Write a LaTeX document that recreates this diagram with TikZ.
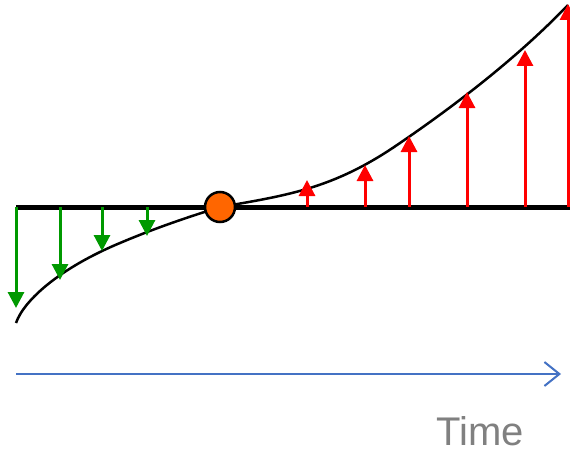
\documentclass[tikz,border=0pt]{standalone}
\usepackage{fontspec}
\setsansfont{Liberation Sans}
\usetikzlibrary{arrows.meta}

\definecolor{pushgreen}{RGB}{0,153,0}
\definecolor{pivotorange}{RGB}{255,102,0}
\definecolor{timeblue}{RGB}{68,114,196}

\tikzset{
  baseline bar/.style={line width=5pt},
  response/.style={line width=2.5pt},
  downpush/.style={pushgreen, line width=3pt, -{Triangle[length=16pt,width=16pt]}},
  uppush/.style={red, line width=3pt, -{Triangle[length=16pt,width=16pt]}},
  timeaxis/.style={timeblue, line width=2pt, -{Straight Barb[length=15pt,width=24pt,line width=2pt]}},
  pivot/.style={circle, draw, line width=2.5pt, fill=pivotorange, minimum size=30pt, inner sep=0pt}
}

\begin{document}
\begin{tikzpicture}[x=1pt,y=-1pt]
\useasboundingbox (0,0) rectangle (570,452);
% curve
\draw[response] (16,323) .. controls (24,300) and (60,268) .. (120,243)
  .. controls (160,226) and (195,215) .. (220,207)
  .. controls (290,195) and (335,188) .. (400,143)
  .. controls (460,102) and (520,55) .. (568,5);
% base line
\draw[baseline bar] (16,207) coordinate (bl) -- (570,207) coordinate (br);
% arrows
\foreach \x/\y in {16/308, 60/280, 102/251, 147/236}
  \draw[downpush] (\x,207) -- (\x,\y);
\foreach \x/\y in {307/180, 365/165, 409/136, 467/92, 525/50, 568/4}
  \draw[uppush] (\x,207) -- (\x,\y);
\node[pivot] (turn) at (220,207) {};
% time axis
\coordinate (t0) at (16,374);
\coordinate (t1) at (561,374);
\draw[timeaxis] (t0) -- (t1);
\node[text=gray, font=\sffamily\fontsize{40}{42}\selectfont, anchor=base] (time) at (480,445) {Time};
\end{tikzpicture}
\end{document}
